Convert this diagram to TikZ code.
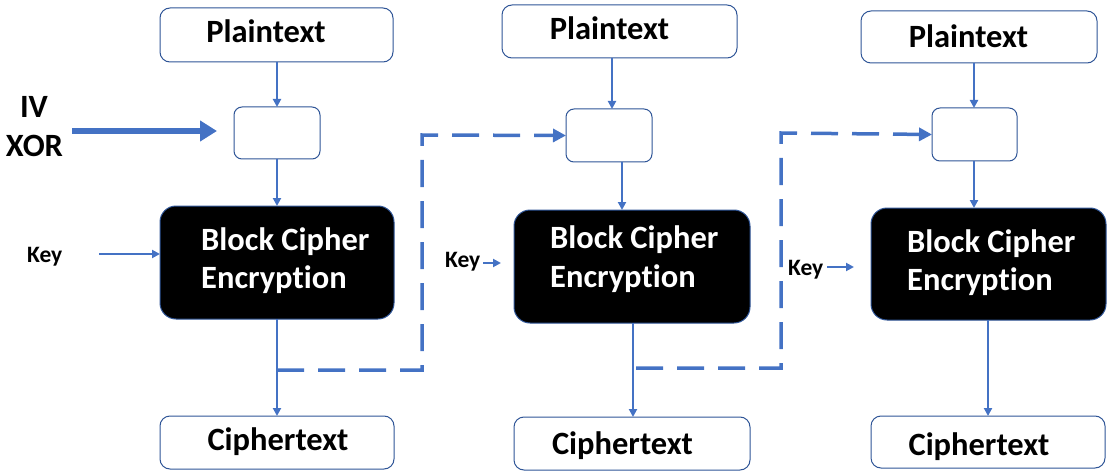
\documentclass[tikz,border=0pt]{standalone}
\usepackage{fontspec}
\setmainfont{Carlito}[Ligatures=NoCommon]
\usetikzlibrary{arrows.meta}
\definecolor{lineblue}{HTML}{4472C4}
\definecolor{edgeblue}{HTML}{2F5597}
\begin{document}
\begin{tikzpicture}[x=1pt,y=-1pt,
  box/.style={draw=edgeblue,line width=1pt,rounded corners=10pt,fill=white,inner sep=0pt,outer sep=0pt,anchor=north west},
  xorbox/.style={box,rounded corners=8pt},
  blockbox/.style={draw=edgeblue,line width=1pt,rounded corners=16pt,fill=black,inner sep=0pt,outer sep=0pt,anchor=north west},
  bigtxt/.style={font=\bfseries\fontsize{32.5}{34}\selectfont,inner sep=0pt,anchor=base},
  wtxt/.style={font=\bfseries\fontsize{32.5}{34}\selectfont,text=white,inner sep=0pt,anchor=base west},
  keytxt/.style={font=\bfseries\fontsize{23.5}{26}\selectfont,inner sep=0pt,anchor=base west},
  arr/.style={draw=lineblue,line width=2pt,-{Triangle[length=8pt,width=8pt]}},
  dashline/.style={draw=lineblue,line width=3.5pt,dash pattern=on 27pt off 14pt,-{Triangle[length=13pt,width=13pt]}},
  ivarr/.style={draw=lineblue,line width=5.5pt,-{Triangle[length=17pt,width=20pt]}}
]
\useasboundingbox (0,0) rectangle (1111,476);

% column 1
\node[box,minimum width=233pt,minimum height=54pt] (p1) at (160,8) {};
\node[xorbox,minimum width=86pt,minimum height=52pt] (x1) at (234,107) {};
\node[blockbox,minimum width=234pt,minimum height=113pt] (b1) at (160,206) {};
\node[box,minimum width=234pt,minimum height=53pt] (c1) at (160,416) {};
% column 2
\node[box,minimum width=235pt,minimum height=53pt] (p2) at (502,5) {};
\node[xorbox,minimum width=86pt,minimum height=53pt] (x2) at (566,109) {};
\node[blockbox,minimum width=236pt,minimum height=113pt] (b2) at (514,210) {};
\node[box,minimum width=236pt,minimum height=53pt] (c2) at (514,417) {};
% column 3
\node[box,minimum width=236pt,minimum height=52pt] (p3) at (861,11) {};
\node[xorbox,minimum width=85pt,minimum height=53pt] (x3) at (932,108) {};
\node[blockbox,minimum width=235pt,minimum height=112pt] (b3) at (871,208) {};
\node[box,minimum width=234pt,minimum height=52pt] (c3) at (871,416) {};

% texts
\node[bigtxt] (pt1) at (266,43) {Plaintext};
\node[bigtxt] (pt2) at (609.5,40) {Plaintext};
\node[bigtxt] (pt3) at (968.5,48) {Plaintext};
\node[bigtxt] (ct1) at (278,450) {Ciphertext};
\node[bigtxt] (ct2) at (622.5,454) {Ciphertext};
\node[bigtxt] (ct3) at (979,455) {Ciphertext};
\node[wtxt] (bt1a) at (201,250) {Block Cipher};
\node[wtxt] (bt1b) at (201,288) {Encryption};
\node[wtxt] (bt2a) at (550,248) {Block Cipher};
\node[wtxt] (bt2b) at (550,287) {Encryption};
\node[wtxt] (bt3a) at (907,252) {Block Cipher};
\node[wtxt] (bt3b) at (907,290) {Encryption};
\node[keytxt] (k1) at (27,262) {Key};
\node[keytxt] (k2) at (445,267) {Key};
\node[keytxt] (k3) at (788,275) {Key};
\node[bigtxt] (iv) at (34,118) {IV};
\node[bigtxt] (xor) at (34.5,157) {XOR};

% helper coordinates
\coordinate (a1) at (277,0);
\coordinate (a2) at (612,0);
\coordinate (a2b) at (622,0);
\coordinate (a2c) at (633,0);
\coordinate (a3) at (974,0);
\coordinate (a3b) at (988,0);
\coordinate (j1) at (277,370);
\coordinate (v1) at (422,135);
\coordinate (j2) at (636,368);
\coordinate (v2) at (781,133);
\coordinate (ks1) at (99,254);
\coordinate (ks2) at (483,263);
\coordinate (ke2) at (501,263);
\coordinate (ks3) at (827,267);
\coordinate (ke3) at (854,267);
\coordinate (ivs) at (72,131);
\coordinate (ive) at (217,131);

% vertical flow arrows
\draw[arr] (p1.south -| a1) -- (x1.north -| a1);
\draw[arr] (x1.south -| a1) -- (b1.north -| a1);
\draw[arr] (b1.south -| a1) -- (c1.north -| a1);
\draw[arr] (p2.south -| a2) -- (x2.north -| a2);
\draw[arr] (x2.south -| a2b) -- (b2.north -| a2b);
\draw[arr] (b2.south -| a2c) -- (c2.north -| a2c);
\draw[arr] (p3.south -| a3) -- (x3.north -| a3);
\draw[arr] (x3.south -| a3) -- (b3.north -| a3);
\draw[arr] (b3.south -| a3b) -- (c3.north -| a3b);

% key arrows
\draw[arr] (ks1) -- (ks1 -| b1.west);
\draw[arr] (ks2) -- (ke2);
\draw[arr] (ks3) -- (ke3);

% IV arrow
\draw[ivarr] (ivs) -- (ive);

% dashed chaining
\draw[dashline] (j1) -| (v1) -- (x2.west);
\draw[dashline] (j2) -| (v2) -- (x3.west);
\end{tikzpicture}
\end{document}
